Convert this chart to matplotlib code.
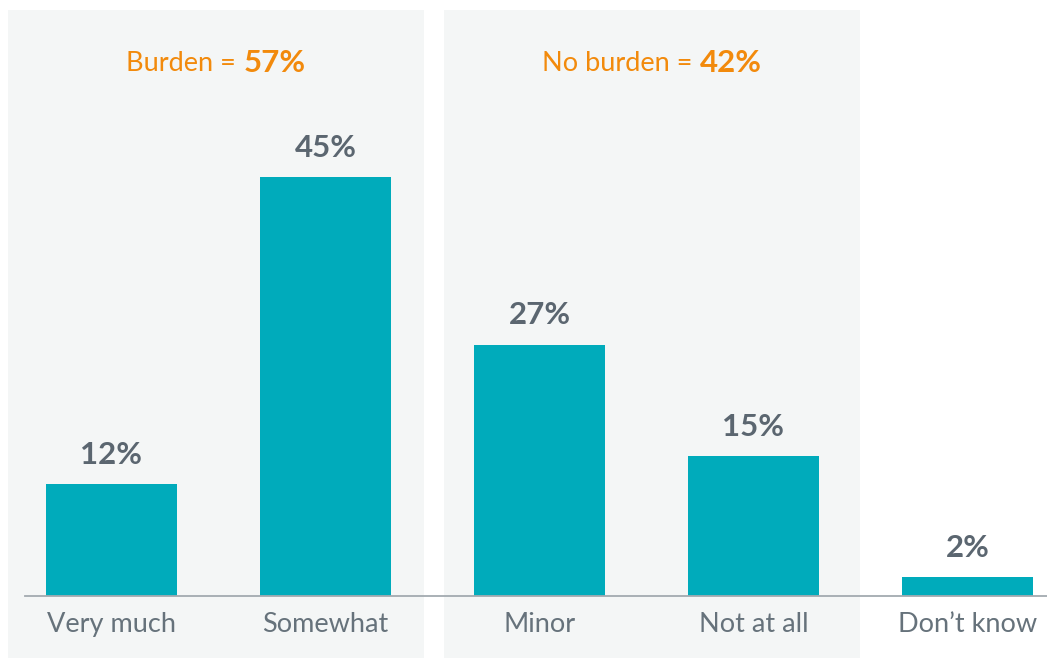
import matplotlib
matplotlib.use("Agg")
import matplotlib.pyplot as plt
from matplotlib.patches import Rectangle

categories = ["Very much", "Somewhat", "Minor", "Not at all", "Don\u2019t know"]
values = [12, 45, 27, 15, 2]
value_labels = ["12%", "45%", "27%", "15%", "2%"]
group_names = ["Burden = ", "No burden = "]
group_totals = ["57%", "42%"]
group_members = [[0, 1], [2, 3]]
panel_pads = [(-0.484, 0.46), (-0.446, 0.498)]

TEAL = "#00abbb"
PANEL = "#f4f6f6"
ORANGE = "#f28a0c"
VAL_GRAY = "#5b6670"
CAT_GRAY = "#66727b"
FONT = "Lato"

fig = plt.figure(figsize=(10.47, 6.58), dpi=100)
ax = fig.add_axes([0, 0, 1, 1])
W, H = 1047, 658
base_px, unit_px, spacing_px, x0_px = 596, 9.31, 214, 111.5
ax.set_xlim(-x0_px / spacing_px, (W - x0_px) / spacing_px)
ax.set_ylim(-(H - base_px) / unit_px, base_px / unit_px)
ax.axis("off")

top_y = (base_px - 10) / unit_px
bottom_y = -(H - base_px) / unit_px
panel_centers = []
for members, (pl, pr) in zip(group_members, panel_pads):
    left = min(members) + pl
    right = max(members) + pr
    panel_centers.append((left + right) / 2)
    ax.add_patch(Rectangle((left, bottom_y), right - left, top_y - bottom_y,
                           facecolor=PANEL, edgecolor="none", zorder=0))

xs = list(range(len(categories)))
ax.bar(xs, values, width=0.612, color=TEAL, zorder=2)
ax.plot([-0.404, (W - x0_px) / spacing_px], [0, 0], color="#a3aab0", lw=1.3, zorder=3)

for x, v, lab in zip(xs, values, value_labels):
    ax.annotate(lab, (x, v), xytext=(0, 11), textcoords="offset points",
                ha="center", va="bottom", fontsize=22.5, fontweight="bold",
                color=VAL_GRAY, family=FONT)

for x, c in zip(xs, categories):
    ax.annotate(c, (x, 0), xytext=(0, -20.5), textcoords="offset points",
                ha="center", va="center", fontsize=19.5, color=CAT_GRAY,
                family=FONT)

renderer = fig.canvas.get_renderer()
title_y = (base_px - 63.5) / unit_px
for cx, name, tot in zip(panel_centers, group_names, group_totals):
    t1 = ax.text(cx, title_y, name, ha="left", va="center", fontsize=19.5,
                 color=ORANGE, family=FONT)
    t2 = ax.text(cx, title_y, tot, ha="left", va="center", fontsize=22.5,
                 color=ORANGE, family=FONT, fontweight="bold")
    w1 = t1.get_window_extent(renderer).width
    w2 = t2.get_window_extent(renderer).width
    total = w1 + w2
    cx_px = ax.transData.transform((cx, title_y))
    inv = ax.transData.inverted()
    left_px = cx_px[0] - total / 2
    t1.set_x(inv.transform((left_px, cx_px[1]))[0])
    t2.set_x(inv.transform((left_px + w1, cx_px[1]))[0])

fig.savefig("out.png", dpi=100, facecolor="white")
